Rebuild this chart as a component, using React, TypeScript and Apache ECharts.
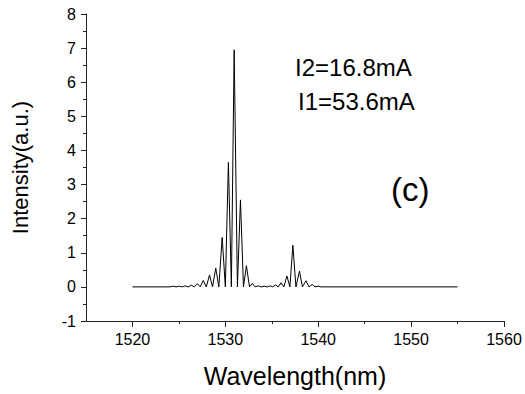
import React, { useEffect, useRef } from "react";
import * as echarts from "echarts";

const spectrum: [number, number][] = [
  [1520, 0], [1524.0, 0], [1524.4, 0.02], [1524.7, 0], [1525.05, 0.02], [1525.35, 0],
  [1525.7, 0.03], [1526.0, 0], [1526.35, 0.05], [1526.65, 0], [1527.0, 0.09], [1527.3, 0],
  [1527.62, 0.19], [1527.95, 0], [1528.3, 0.35], [1528.62, 0], [1528.97, 0.55], [1529.3, 0],
  [1529.66, 1.45], [1530.0, 0], [1530.33, 3.65], [1530.65, 0], [1530.95, 6.95], [1531.3, 0],
  [1531.63, 2.55], [1531.95, 0], [1532.27, 0.62], [1532.6, 0], [1532.9, 0.1], [1533.2, 0],
  [1533.55, 0.03], [1533.85, 0], [1534.2, 0.02], [1534.5, 0], [1534.85, 0.03], [1535.1, 0],
  [1535.4, 0.06], [1535.7, 0], [1536.0, 0.12], [1536.3, 0], [1536.63, 0.32], [1536.95, 0],
  [1537.27, 1.22], [1537.6, 0], [1537.98, 0.46], [1538.3, 0], [1538.68, 0.18], [1539.0, 0],
  [1539.35, 0.07], [1539.65, 0], [1540.0, 0.02], [1540.3, 0], [1555, 0],
];

const majorXTicks = [1520, 1530, 1540, 1550, 1560];
const minorXTicks = [1525, 1535, 1545, 1555];
const annotations = ["I2=16.8mA", "I1=53.6mA", "(c)"];

const FONT = "'Liberation Sans', Arial, sans-serif";
const AXIS_COLOR = "#222";

export default function App() {
  const ref = useRef<HTMLDivElement>(null);
  useEffect(() => {
    if (!ref.current) return;
    const chart = echarts.init(ref.current, undefined, { renderer: "svg" });
    chart.setOption({
      animation: false,
      backgroundColor: "#fff",
      textStyle: { fontFamily: FONT },
      grid: { left: 86, right: 21, top: 14, bottom: 73, containLabel: false },
      xAxis: [
        {
          type: "value",
          min: 1515,
          max: 1560,
          name: "Wavelength(nm)",
          nameLocation: "middle",
          nameGap: 42,
          nameTextStyle: { fontSize: 25, color: "#000", fontFamily: FONT },
          axisLine: { show: true, onZero: false, lineStyle: { color: AXIS_COLOR, width: 1 } },
          axisTick: { show: true, customValues: majorXTicks, length: 6, lineStyle: { color: AXIS_COLOR } },
          axisLabel: {
            customValues: majorXTicks,
            fontSize: 16,
            color: "#000",
            margin: 10,
            fontFamily: FONT,
            formatter: (v: number) => String(v),
          },
          splitLine: { show: false },
        },
        {
          type: "value",
          min: 1515,
          max: 1560,
          position: "bottom",
          axisLine: { show: false, onZero: false },
          axisTick: { show: true, customValues: minorXTicks, length: 3, lineStyle: { color: AXIS_COLOR, width: 1 } },
          axisLabel: { show: false },
          splitLine: { show: false },
        },
      ],
      yAxis: {
        type: "value",
        min: -1,
        max: 8,
        interval: 1,
        name: "Intensity(a.u.)",
        nameLocation: "middle",
        nameGap: 55,
        nameTextStyle: { fontSize: 22, color: "#000", fontFamily: FONT },
        axisLine: { show: true, onZero: false, lineStyle: { color: AXIS_COLOR, width: 1 } },
        axisTick: { show: true, length: 5, lineStyle: { color: AXIS_COLOR } },
        minorTick: { show: true, splitNumber: 2, length: 3, lineStyle: { color: AXIS_COLOR } },
        axisLabel: { fontSize: 16, color: "#000", margin: 10, fontFamily: FONT },
        splitLine: { show: false },
        minorSplitLine: { show: false },
      },
      series: [
        {
          type: "line",
          data: spectrum,
          showSymbol: false,
          symbol: "none",
          lineStyle: { color: "#000", width: 1 },
          xAxisIndex: 0,
        },
      ],
      graphic: [
        {
          type: "text",
          left: 295,
          top: 55,
          style: { text: annotations[0], fontSize: 24, fill: "#000", fontFamily: FONT },
        },
        {
          type: "text",
          left: 298,
          top: 89,
          style: { text: annotations[1], fontSize: 24, fill: "#000", fontFamily: FONT },
        },
        {
          type: "text",
          left: 391,
          top: 173,
          style: { text: annotations[2], fontSize: 33, fill: "#000", fontFamily: FONT },
        },
      ],
    });
    return () => chart.dispose();
  }, []);
  return <div ref={ref} style={{ width: 525, height: 394, position: "absolute", left: 0, top: 0 }} />;
}
